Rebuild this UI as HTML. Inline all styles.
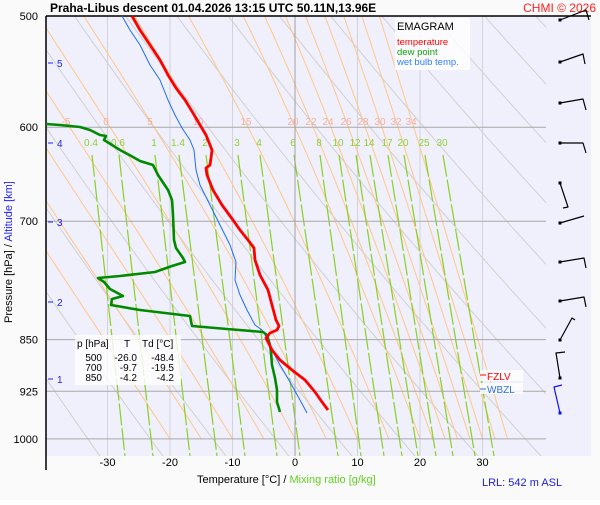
<!DOCTYPE html>
<html><head><meta charset="utf-8"><style>
body{margin:0;background:#fff;width:600px;height:500px;overflow:hidden}
svg{font-family:"Liberation Sans",sans-serif}
</style></head><body>
<svg id="s" width="600" height="500" xmlns="http://www.w3.org/2000/svg">
<rect x="0" y="0" width="600" height="500" fill="#fafafa"/>
<rect x="46" y="16" width="545" height="440" fill="#f0f0fc"/>
<defs><clipPath id="c"><rect x="46" y="16" width="500" height="440"/></clipPath></defs>
<g id="bg" clip-path="url(#c)"></g>
<g id="fg"></g>
</svg>
<script>
const NS="http://www.w3.org/2000/svg";
const bg=document.getElementById('bg'),fg=document.getElementById('fg');
function X(t){return 295+6.25*t}
function Y(p){return 16+610*Math.log(p/500)}
function el(par,tag,a,txt){const e=document.createElementNS(NS,tag);for(const k in a)e.setAttribute(k,a[k]);if(txt!==undefined)e.textContent=txt;par.appendChild(e);return e}
function pl(par,pts,st,w,extra){const a=Object.assign({points:pts.map(p=>p[0].toFixed(1)+','+p[1].toFixed(1)).join(' '),fill:'none',stroke:st,'stroke-width':w,'stroke-linejoin':'round'},extra||{});return el(par,'polyline',a)}
// isotherms
for(let t=-30;t<=30;t+=10){if(t==0)continue;el(bg,'line',{x1:X(t),y1:16,x2:X(t),y2:456,stroke:'#d2d2d8','stroke-width':1})}
// dry adiabats
for(let th=230;th<=420;th+=10){let pts=[];for(let p=450;p<=1060;p+=10){pts.push([X(th*Math.pow(p/1000,0.286)-273.15),Y(p)])}pl(bg,pts,'#d0d0d0',1)}
// moist adiabats
function es(t){return 6.112*Math.exp(17.67*t/(t+243.5))}
function dTdp(p,T){const t=T-273.15;const e=es(t);const rs=0.622*e/(p-e);const Rd=287,cp=1005,L=2.5e6;return (Rd*T+L*rs)/(p*(cp+L*L*rs*0.622/(Rd*T*T)))}
function moist(tw){let T=tw+273.15;let up=[];for(let q=1000;q>=450;q-=5){up.push([X(T-273.15),Y(q)]);T-=dTdp(q,T)*5}return up}
const mw=[-20,-15,-10,-5,0,5,10,15,20,22,24,26,28,30,32,34];
mw.forEach(w=>pl(bg,moist(w),'#ffc68a',1));
// mixing ratio
const mr=[0.4,0.6,1,1.4,2,3,4,6,8,10,12,14,17,20,25,30];
const mlx=[91,118,154,178,205,237,259,293,319,338,355,369,387,403,424,442];
const mbx=[125,153,190,217,245,277,300,338,361,384,402,418,436,453,475,494];
mr.forEach((w,i)=>{el(bg,'line',{x1:mlx[i]+1,y1:155,x2:mbx[i],y2:456,stroke:'#88d020','stroke-width':1.2,'stroke-dasharray':'22,3'})});
// pressure lines
[600,700,850,925,1000].forEach(p=>el(fg,'line',{x1:46,y1:Y(p),x2:546,y2:Y(p),stroke:'#a8a8a8','stroke-width':1}));
el(fg,'line',{x1:295,y1:16,x2:295,y2:456,stroke:'#a0a0a0','stroke-width':1});
// labels
const ml=[[-5,66],[0,106],[5,150],[10,198],[15,246],[20,293],[22,311],[24,328],[26,346],[28,363],[30,380],[32,396],[34,411]];
ml.forEach(a=>el(fg,'text',{x:a[1],y:125,'font-size':10,fill:'#f4b0a0','text-anchor':'middle'},a[0]));
mr.forEach((w,i)=>el(fg,'text',{x:mlx[i],y:146,'font-size':10,fill:'#90d030','text-anchor':'middle'},w));
// axes
el(fg,'line',{x1:46,y1:16,x2:591,y2:16,stroke:'#000','stroke-width':1.5});
el(fg,'line',{x1:46,y1:16,x2:46,y2:470,stroke:'#000','stroke-width':1.5});
[500,600,700,850,925,1000].forEach(p=>el(fg,'text',{x:38,y:Y(p)+4,'font-size':11,'text-anchor':'end'},p));
[[5,63],[4,143],[3,222],[2,302],[1,379]].forEach(a=>{el(fg,'line',{x1:48,y1:a[1],x2:53,y2:a[1],stroke:'#2020ff','stroke-width':1});el(fg,'text',{x:57,y:a[1]+4,'font-size':10,fill:'#2020ff'},a[0])});
[-30,-20,-10,0,10,20,30].forEach(t=>el(fg,'text',{x:X(t),y:466,'font-size':11,'text-anchor':'middle'},t));
const xl=el(fg,'text',{x:197,y:483,'font-size':11});xl.innerHTML='Temperature [°C]  /  <tspan fill="#60d020">Mixing ratio [g/kg]</tspan>';
el(fg,'text',{x:482,y:486,'font-size':11,fill:'#2020e0'},'LRL: 542 m ASL');
const yl=el(fg,'text',{x:0,y:0,'font-size':11,transform:'translate(12,323) rotate(-90)'});yl.innerHTML='Pressure [hPa]  /  <tspan fill="#2020ff">Altitude [km]</tspan>';
el(fg,'text',{x:50,y:12,'font-size':12,'font-weight':'bold'},'Praha-Libus   descent   01.04.2026 13:15 UTC   50.11N,13.96E');
el(fg,'text',{x:596,y:12,'font-size':12,fill:'#ff2020','text-anchor':'end'},'CHMI © 2026');
// legend
el(fg,'rect',{x:395,y:18,width:75,height:52,fill:'#fff','fill-opacity':0.8});
el(fg,'text',{x:397,y:30,'font-size':11},'EMAGRAM');
el(fg,'text',{x:397,y:45,'font-size':9.5,fill:'#ff0000'},'temperature');
el(fg,'text',{x:397,y:55,'font-size':9.5,fill:'#10a010'},'dew point');
el(fg,'text',{x:397,y:65,'font-size':9.5,fill:'#3080ff'},'wet bulb temp.');
// table
el(fg,'rect',{x:75,y:335,width:106,height:50,fill:'#fff','fill-opacity':0.8});
el(fg,'text',{x:77,y:347,'font-size':10},'p [hPa]');el(fg,'text',{x:127,y:347,'font-size':10,'text-anchor':'middle'},'T');el(fg,'text',{x:142,y:347,'font-size':10},'Td [°C]');
[[500,'-26.0','-48.4'],[700,'-9.7','-19.5'],[850,'-4.2','-4.2']].forEach((r,i)=>{const y=361+i*10;el(fg,'text',{x:102,y:y,'font-size':10,'text-anchor':'end'},r[0]);el(fg,'text',{x:137,y:y,'font-size':10,'text-anchor':'end'},r[1]);el(fg,'text',{x:174,y:y,'font-size':10,'text-anchor':'end'},r[2])});
// FZLV/WBZL
el(fg,'rect',{x:480,y:370,width:43,height:11,fill:'#fff','fill-opacity':0.8});
el(fg,'rect',{x:480,y:383,width:43,height:11,fill:'#fff','fill-opacity':0.8});
el(fg,'line',{x1:480,y1:375,x2:486,y2:375,stroke:'#f00'});el(fg,'text',{x:487,y:380,'font-size':10,fill:'#f00'},'FZLV');
el(fg,'line',{x1:480,y1:389,x2:486,y2:389,stroke:'#3070e0'});el(fg,'text',{x:487,y:393,'font-size':10,fill:'#3070e0'},'WBZL');
// profiles
const wb=[[122,16],[130,30],[140,45],[150,65],[160,80],[168,100],[175,115],[182,128],[190,140],[194,150],[196,170],[200,185],[210,205],[220,225],[230,245],[236,262],[235,280],[240,295],[247,310],[255,325],[262,330],[268,340],[272,350],[280,365],[290,382],[300,400],[307,413]];
pl(fg,wb,'#1a6cff',1);
const dp=[[46,124],[60,125],[80,127],[90,130],[100,135],[106,136],[104,140],[120,150],[133,157],[140,161],[153,165],[158,175],[168,190],[172,200],[173,215],[174,240],[176,248],[183,258],[185,262],[172,266],[155,272],[120,276],[98,278],[104,282],[110,289],[123,296],[112,299],[111,305],[140,310],[190,316],[192,326],[227,329],[263,332],[267,335],[270,345],[271,352],[272,365],[275,378],[277,390],[277,402],[280,412]];
pl(fg,dp,'#008a00',2.6);
const tp=[[132,16],[140,30],[150,45],[160,60],[168,75],[176,88],[185,100],[193,113],[200,125],[206,135],[210,145],[212,150],[211,158],[210,165],[206,168],[207,175],[213,190],[222,205],[233,220],[240,230],[248,240],[254,248],[255,260],[260,275],[268,290],[272,305],[276,320],[279,326],[277,330],[270,333],[266,338],[272,350],[280,360],[292,370],[305,380],[315,392],[322,402],[328,410]];
pl(fg,tp,'#ff0000',2.8);
// wind barbs
const wbs=[[560,20,586,10,589,20,'#000'],[560,62,583,54,585,64,'#000'],[560,103,583,99,586,110,'#000'],[560,143,583,143,586,153,'#000'],[560,183,568,207,563,208,'#000'],[560,223,584,216,null,null,'#000'],[560,262,584,258,586,268,'#000'],[560,301,584,297,586,307,'#000'],[560,340,572,318,575,320,'#000'],[560,378,556,353,565,352,'#000'],[560,413,554,387,562,385,'#1010ff']];
wbs.forEach(b=>{let pts=[[b[0],b[1]],[b[2],b[3]]];if(b[4]!==null)pts.push([b[4],b[5]]);pl(fg,pts,b[6],1.2);el(fg,'rect',{x:b[0]-1.5,y:b[1]-1.5,width:3,height:3,fill:b[6]})});
</script>
</body></html>
